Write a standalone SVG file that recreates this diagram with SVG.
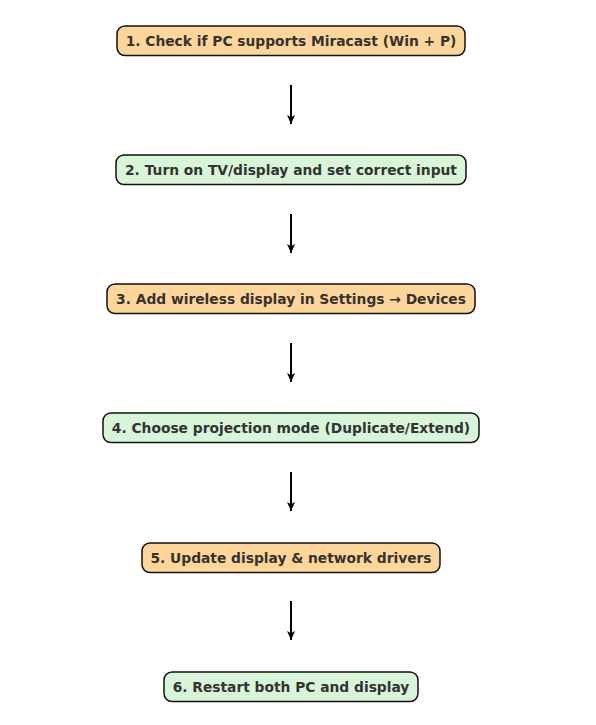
<svg xmlns="http://www.w3.org/2000/svg" width="596" height="725" viewBox="0 0 596 725">
<defs>
<style>
.box{stroke:#111;stroke-width:1.5}
.o{fill:#FFD699}
.g{fill:#D9F5D9}
.t{font-family:"DejaVu Sans",sans-serif;font-weight:bold;font-size:13.8px;fill:#333;text-anchor:middle;dominant-baseline:central}
.c{stroke:#000;stroke-width:2;fill:none;marker-end:url(#ah)}
</style>
<marker id="ah" viewBox="0 0 10 10" refX="10" refY="5" markerWidth="4.5" markerHeight="4.5" orient="auto" markerUnits="strokeWidth">
<path d="M0,0.5 L10,5 L0,9.5 L2.5,5 Z" fill="#000"/>
</marker>
</defs>
<rect width="596" height="725" fill="#fff"/>
<g id="connectors">
<line class="c" x1="291" y1="85" x2="291" y2="124"/>
<line class="c" x1="291" y1="214" x2="291" y2="253"/>
<line class="c" x1="291" y1="343" x2="291" y2="382"/>
<line class="c" x1="291" y1="472" x2="291" y2="511"/>
<line class="c" x1="291" y1="601" x2="291" y2="640"/>
</g>
<g id="n1"><rect class="box o" x="117" y="26" width="348" height="29.5" rx="8"/><text class="t" x="291" y="41">1. Check if PC supports Miracast (Win + P)</text></g>
<g id="n2"><rect class="box g" x="116" y="155" width="350" height="29.5" rx="8"/><text class="t" x="291" y="170">2. Turn on TV/display and set correct input</text></g>
<g id="n3"><rect class="box o" x="107" y="284" width="368" height="29.5" rx="8"/><text class="t" x="291" y="299">3. Add wireless display in Settings → Devices</text></g>
<g id="n4"><rect class="box g" x="103" y="413" width="376" height="29.5" rx="8"/><text class="t" x="291" y="428">4. Choose projection mode (Duplicate/Extend)</text></g>
<g id="n5"><rect class="box o" x="142" y="543" width="298" height="29.5" rx="8"/><text class="t" x="291" y="558">5. Update display &amp; network drivers</text></g>
<g id="n6"><rect class="box g" x="164" y="672" width="254" height="29.5" rx="8"/><text class="t" x="291" y="687">6. Restart both PC and display</text></g>
</svg>
